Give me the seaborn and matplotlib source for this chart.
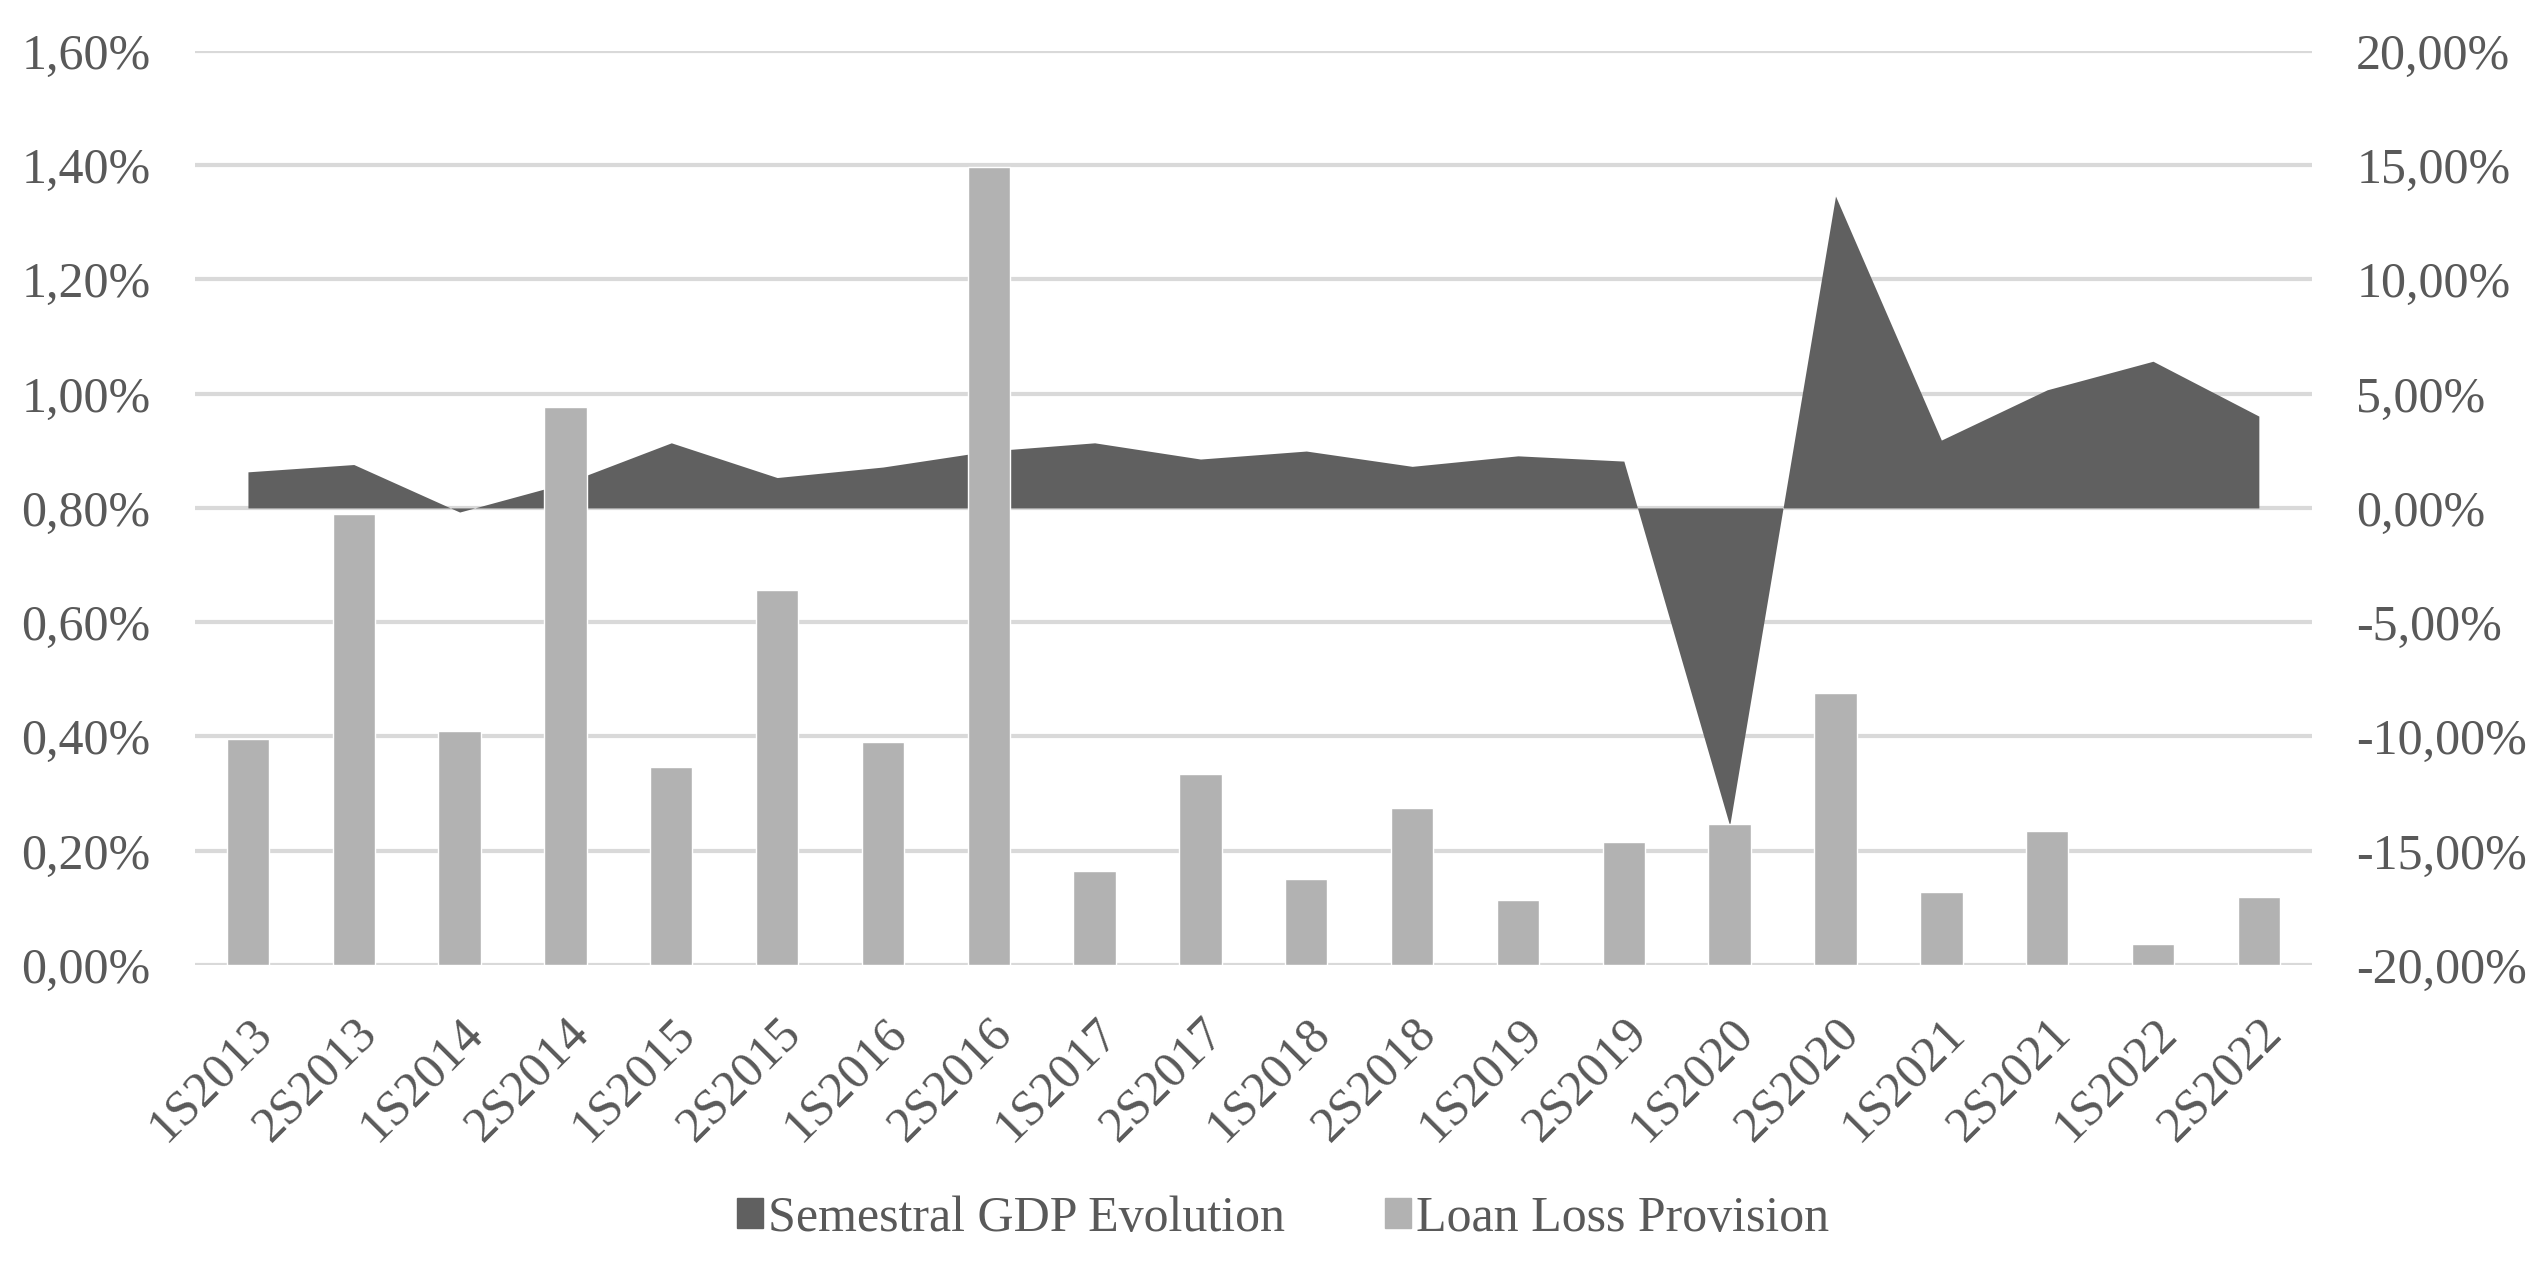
import matplotlib
matplotlib.use('Agg')
import matplotlib.pyplot as plt
import seaborn as sns
import pandas as pd
from matplotlib.patches import Patch
from matplotlib.ticker import FuncFormatter, MultipleLocator

# semesters on the x axis
semesters = ['1S2013', '2S2013', '1S2014', '2S2014', '1S2015', '2S2015', '1S2016', '2S2016',
             '1S2017', '2S2017', '1S2018', '2S2018', '1S2019', '2S2019', '1S2020', '2S2020',
             '1S2021', '2S2021', '1S2022', '2S2022']

# loan loss provision, % (left axis)
loan_loss = [0.395, 0.79, 0.409, 0.977, 0.347, 0.656, 0.391, 1.397, 0.165, 0.334,
             0.151, 0.275, 0.114, 0.215, 0.247, 0.476, 0.127, 0.234, 0.036, 0.119]

# semestral GDP evolution, % (right axis)
gdp = [1.58, 1.90, -0.18, 1.08, 2.85, 1.33, 1.79, 2.49, 2.85, 2.14,
       2.49, 1.82, 2.28, 2.05, -13.9, 13.65, 2.97, 5.17, 6.42, 4.02]

df = pd.DataFrame({'semester': semesters, 'llp': loan_loss, 'gdp': gdp})

sns.set_style('white')
plt.rcParams['font.family'] = ['Liberation Serif', 'DejaVu Serif']
text_col = '#595959'
bar_col = '#b2b2b2'
area_col = '#606060'
grid_col = '#d9d9d9'
fs = 36

fig = plt.figure(figsize=(25.46, 12.64), dpi=100)
ax = fig.add_axes([0.0766, 0.2366, 0.908 - 0.0766, 0.9597 - 0.2366])
ax2 = ax.twinx()

# area on the right axis, behind the bars
ax2.fill_between(range(len(df)), df['gdp'], 0, color=area_col, linewidth=0, zorder=2)
ax2.set_ylim(-20, 20)
ax2.yaxis.set_major_locator(MultipleLocator(5))
ax2.grid(axis='y', color=grid_col, linewidth=3, zorder=0)
ax2.set_axisbelow(True)

# bars on the left axis, on top
sns.barplot(data=df, x='semester', y='llp', color=bar_col, width=0.4,
            saturation=1, ax=ax, zorder=3)
ax.set_ylim(0, 1.6)
ax.yaxis.set_major_locator(MultipleLocator(0.2))
ax.set_xlim(-0.5, len(df) - 0.5)
ax.set_zorder(ax2.get_zorder() + 1)
ax.patch.set_visible(False)
ax.set_xlabel('')
ax.set_ylabel('')

pct = FuncFormatter(lambda v, p: f'{v:.2f}%'.replace('.', ','))
ax.yaxis.set_major_formatter(pct)
ax2.yaxis.set_major_formatter(pct)

for a in (ax, ax2):
    for s in a.spines.values():
        s.set_visible(False)
    a.tick_params(length=0, labelsize=fs, labelcolor=text_col)
ax.tick_params(axis='y', pad=32)
ax2.tick_params(axis='y', pad=32)
ax.tick_params(axis='x', pad=32)
plt.setp(ax.get_xticklabels(), rotation=45, ha='right', rotation_mode='anchor')

handles = [Patch(color=area_col, label='Semestral GDP Evolution'),
           Patch(color=bar_col, label='Loan Loss Provision')]
fig.legend(handles=handles, loc='center', bbox_to_anchor=(0.504, 0.036), ncol=2,
           frameon=False, fontsize=fs, labelcolor=text_col, handlelength=0.52,
           handleheight=0.52, handletextpad=0.1, columnspacing=2.0)

fig.savefig('out.png', dpi=100, facecolor='white')
